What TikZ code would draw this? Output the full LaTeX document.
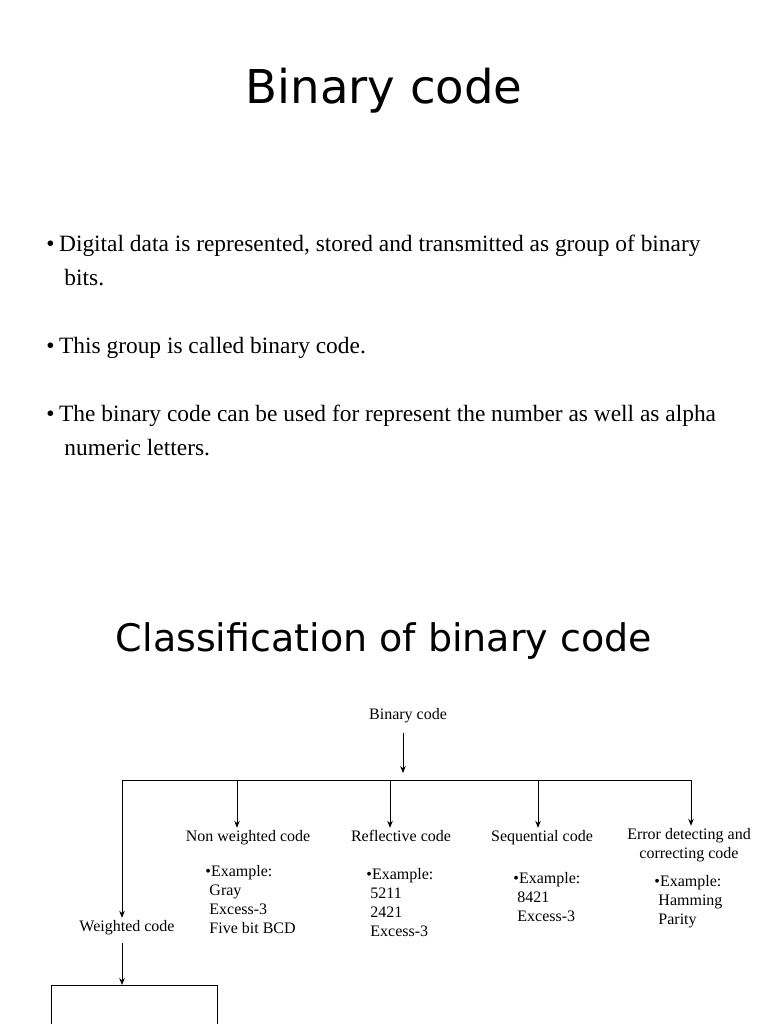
\documentclass[tikz,border=0pt]{standalone}
\usepackage{fontspec}
\setmainfont{Liberation Serif}
\newfontfamily\headfont{DejaVu Sans}
\usetikzlibrary{arrows.meta,positioning}

\begin{document}
\begin{tikzpicture}[x=1pt, y=-1pt, >={Stealth[length=7pt,width=5.5pt]}, line width=0.9pt]
\tikzset{
  headline/.style={font=\headfont\fontsize{#1}{#1}\selectfont, inner sep=0, anchor=base},
  point/.style={anchor=base west, inner sep=0, align=left, font=\fontsize{23.4}{34}\selectfont},
  codebox/.style={inner sep=1pt, align=center, font=\fontsize{16}{19}\selectfont},
  codeline/.style={codebox, text height=11pt, text depth=3.5pt},
  example/.style={anchor=base west, inner sep=0, align=left, font=\fontsize{16}{19}\selectfont}
}
\fill[white] (0,0) rectangle (768,1024);
\useasboundingbox (0,0) rectangle (768,1024);
% titles
\node[headline=46.6] (title) at (384,104) {Binary code};
\node[headline=38] (subtitle) at (384,651) {Classification of binary code};
% bullet points (base = last line)
\node[point] (p1) at (46,285) {•\hspace{4.5pt}Digital data is represented, stored and transmitted as group of binary\\\hspace*{18pt}bits.};
\node[point] (p2) at (46,353) {•\hspace{4.5pt}This group is called binary code.};
\node[point] (p3) at (46,455) {•\hspace{4.5pt}The binary code can be used for represent the number as well as alpha\\\hspace*{18pt}numeric letters.};
% tree of codes
\node[codeline] (root) at (408,716) {Binary code};
\node[codeline] (weighted) at (127,927.5) {Weighted code};
\node[codeline] (nonw) at (248,837.5) {Non weighted code};
\node[codeline] (refl) at (401,837.5) {Reflective code};
\node[codeline] (seq) at (542,837.5) {Sequential code};
\node[codebox] (err) at (689,845) {Error detecting and\\correcting code};
% examples (base = last line)
\node[example] (nonwex) at (205,933) {•Example:\\\hspace*{4pt}Gray\\\hspace*{4pt}Excess-3\\\hspace*{4pt}Five bit BCD};
\node[example] (reflex) at (366,936) {•Example:\\\hspace*{4pt}5211\\\hspace*{4pt}2421\\\hspace*{4pt}Excess-3};
\node[example] (seqex) at (513,921) {•Example:\\\hspace*{4pt}8421\\\hspace*{4pt}Excess-3};
\node[example] (errex) at (654,924) {•Example:\\\hspace*{4pt}Hamming\\\hspace*{4pt}Parity};
% main bus
\coordinate (rootend) at (403,773);
\coordinate (busL) at (122,780);
\coordinate (busR) at (691,780);
\coordinate (d1) at (237,780);
\coordinate (d2) at (390,780);
\coordinate (d3) at (538,780);
\draw[->, shorten <=8pt] (rootend |- root.south) -- (rootend);
\draw (busL) -- (busR);
\draw[->, shorten >=1pt] (busL) -- (busL |- weighted.north);
\draw[->, shorten >=1pt] (d1) -- (d1 |- nonw.north);
\draw[->, shorten >=1pt] (d2) -- (d2 |- refl.north);
\draw[->, shorten >=1pt] (d3) -- (d3 |- seq.north);
\draw[->, shorten >=1pt] (busR) -- (busR |- err.north);
% weighted code bus
\coordinate (wbus) at (122,985);
\coordinate (wbusL) at (51,985);
\coordinate (wbusR) at (217,985);
\coordinate (wendL) at (51,1024);
\coordinate (wendR) at (217,1024);
\draw[->, shorten <=7pt] (weighted.south -| wbus) -- (wbus);
\draw (wendL) -- (wbusL) -- (wbusR) -- (wendR);
\end{tikzpicture}
\end{document}
